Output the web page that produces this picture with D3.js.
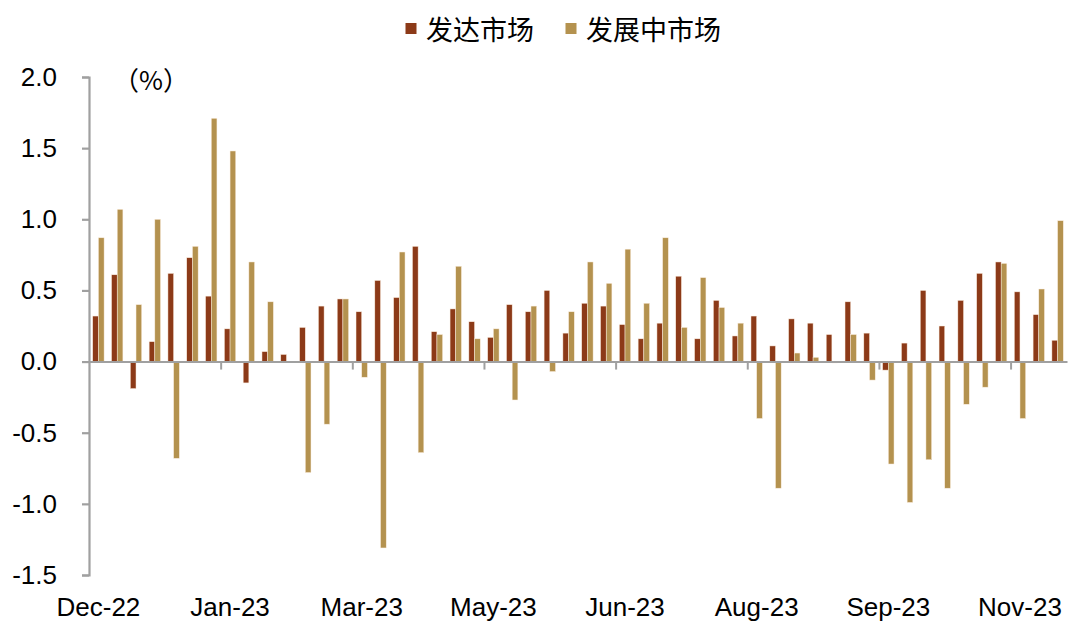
<!DOCTYPE html>
<html>
<head>
<meta charset="utf-8">
<script src="https://cdn.jsdelivr.net/npm/d3@7"></script>
<style>
  html, body { margin: 0; padding: 0; background: #fff; }
  svg { display: block; }
</style>
</head>
<body>
<svg id="chart" width="1080" height="634"></svg>
<script>
// ---- Data ----
const weeks = [
  "2022-12-07","2022-12-14","2022-12-21","2022-12-28","2023-01-04","2023-01-11","2023-01-18","2023-01-25",
  "2023-02-01","2023-02-08","2023-02-15","2023-02-22","2023-03-01","2023-03-08","2023-03-15","2023-03-22",
  "2023-03-29","2023-04-05","2023-04-12","2023-04-19","2023-04-26","2023-05-03","2023-05-10","2023-05-17",
  "2023-05-24","2023-05-31","2023-06-07","2023-06-14","2023-06-21","2023-06-28","2023-07-05","2023-07-12",
  "2023-07-19","2023-07-26","2023-08-02","2023-08-09","2023-08-16","2023-08-23","2023-08-30","2023-09-06",
  "2023-09-13","2023-09-20","2023-09-27","2023-10-04","2023-10-11","2023-10-18","2023-10-25","2023-11-01",
  "2023-11-08","2023-11-15","2023-11-22","2023-11-29"
];
const seriesNames = ["发达市场", "发展中市场"];
const developed = [
  0.32, 0.61, -0.19, 0.14, 0.62, 0.73, 0.46, 0.23, -0.15, 0.07, 0.05, 0.24, 0.39,
  0.44, 0.35, 0.57, 0.45, 0.81, 0.21, 0.37, 0.28, 0.17, 0.40, 0.35, 0.50, 0.20,
  0.41, 0.39, 0.26, 0.16, 0.27, 0.60, 0.16, 0.43, 0.18, 0.32, 0.11, 0.30, 0.27,
  0.19, 0.42, 0.20, -0.06, 0.13, 0.50, 0.25, 0.43, 0.62, 0.70, 0.49, 0.33, 0.15
];
const emerging = [
  0.87, 1.07, 0.40, 1.00, -0.68, 0.81, 1.71, 1.48, 0.70, 0.42, 0.00, -0.78, -0.44,
  0.44, -0.11, -1.31, 0.77, -0.64, 0.19, 0.67, 0.16, 0.23, -0.27, 0.39, -0.07, 0.35,
  0.70, 0.55, 0.79, 0.41, 0.87, 0.24, 0.59, 0.38, 0.27, -0.40, -0.89, 0.06, 0.03,
  -0.01, 0.19, -0.13, -0.72, -0.99, -0.69, -0.89, -0.30, -0.18, 0.69, -0.40, 0.51, 0.99
];
const yTicks = [-1.5, -1.0, -0.5, 0.0, 0.5, 1.0, 1.5, 2.0];
const labelEvery = 7;
const unitLabel = "（%）";
const colors = ["#8C3A18", "#B4924F"];

// ---- Layout ----
const svg = d3.select("#chart");
const plotLeft = 89, plotRight = 1067;
const yTop = 77, yBottom = 575;

const parse = d3.timeParse("%Y-%m-%d");
const fmt = d3.timeFormat("%b-%y");

const x = d3.scaleBand().domain(weeks).range([plotLeft, plotRight]).paddingInner(0).paddingOuter(0);
const xSub = d3.scaleBand().domain(seriesNames).range([0, x.bandwidth()]).paddingInner(0).paddingOuter(0.65);
const xIdx = d3.scaleLinear().domain([0, weeks.length]).range([plotLeft, plotRight]);
const y = d3.scaleLinear().domain([-1.5, 2.0]).range([yBottom, yTop]);

const rows = weeks.map((w, i) => ({ week: w, values: [developed[i], emerging[i]] }));

// Bars
const g = svg.append("g");
const groups = g.selectAll("g.grp").data(rows).join("g")
  .attr("class", "grp")
  .attr("transform", d => `translate(${x(d.week)},0)`);
groups.selectAll("rect").data(d => d.values.map((v, k) => ({ v, k })))
  .join("rect")
  .attr("x", d => xSub(seriesNames[d.k]))
  .attr("width", xSub.bandwidth())
  .attr("y", d => y(Math.max(0, d.v)))
  .attr("height", d => Math.abs(y(d.v) - y(0)))
  .attr("fill", d => colors[d.k])
  .attr("stroke", "#fbeee0")
  .attr("stroke-width", 0.5);

// Y axis
const axisColor = "#A0A0A0";
const yAxis = svg.append("g")
  .attr("transform", `translate(${plotLeft},0)`)
  .call(d3.axisLeft(y).tickValues(yTicks).tickSize(7).tickSizeOuter(7).tickPadding(25)
    .tickFormat(d => d.toFixed(1)));
yAxis.selectAll("path, line").attr("stroke", axisColor).attr("stroke-width", 2.2);
yAxis.selectAll("text")
  .attr("font-family", "Liberation Sans, Arial, sans-serif")
  .attr("font-size", 26).attr("fill", "#000");

// X axis line at zero with tick marks at category boundaries
const xAxis = svg.append("g")
  .attr("transform", `translate(0,${y(0)})`)
  .call(d3.axisBottom(xIdx)
    .tickValues(d3.range(labelEvery, weeks.length, labelEvery))
    .tickSize(8).tickSizeOuter(0).tickFormat(""));
xAxis.selectAll("path, line").attr("stroke", axisColor).attr("stroke-width", 2);

// X labels at the bottom
const labelWeeks = weeks.filter((w, i) => i % labelEvery === 0);
const xLab = svg.append("g")
  .attr("transform", `translate(0,${yBottom})`)
  .call(d3.axisBottom(x).tickValues(labelWeeks).tickSize(0).tickPadding(23)
    .tickFormat(w => fmt(parse(w))));
xLab.select(".domain").remove();
xLab.selectAll("text")
  .attr("font-family", "Liberation Sans, Arial, sans-serif")
  .attr("font-size", 26).attr("fill", "#000");

// Unit label
svg.append("text")
  .attr("x", 113).attr("y", 78)
  .attr("dominant-baseline", "central")
  .attr("font-family", "Noto Sans CJK SC, sans-serif")
  .attr("font-size", 26).attr("fill", "#000")
  .text(unitLabel);

// Legend
const legendItems = [
  { name: seriesNames[0], color: colors[0], sx: 405.5, tx: 426 },
  { name: seriesNames[1], color: colors[1], sx: 565.5, tx: 586 }
];
const lg = svg.append("g");
lg.selectAll("rect").data(legendItems).join("rect")
  .attr("x", d => d.sx).attr("y", 23).attr("width", 11).attr("height", 11)
  .attr("fill", d => d.color);
lg.selectAll("text").data(legendItems).join("text")
  .attr("x", d => d.tx).attr("y", 28)
  .attr("dominant-baseline", "central")
  .attr("font-family", "Noto Sans CJK SC, sans-serif")
  .attr("font-size", 27).attr("fill", "#000")
  .text(d => d.name);
</script>
</body>
</html>
